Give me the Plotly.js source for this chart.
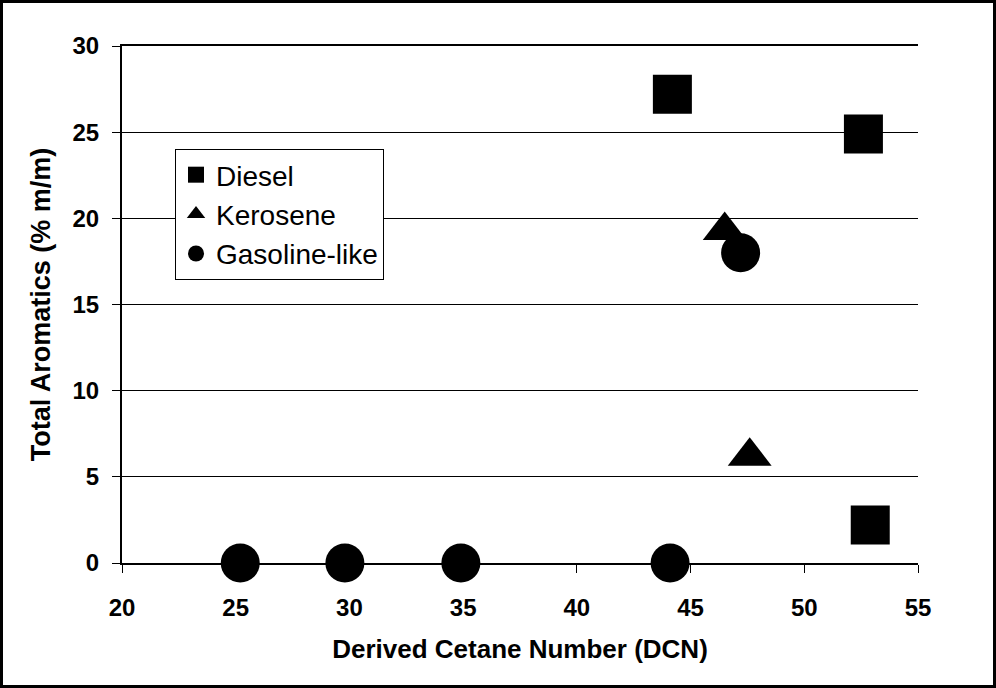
<!DOCTYPE html>
<html>
<head>
<meta charset="utf-8">
<script src="https://cdn.plot.ly/plotly-3.0.1.min.js"></script>
<style>
  html, body { margin: 0; padding: 0; background: #fff; }
  #wrap { position: relative; width: 996px; height: 688px; }
  #chart { width: 996px; height: 688px; }
  #frame { position: absolute; left: 0; top: 0; width: 996px; height: 688px; box-sizing: border-box; border: 3px solid #000; pointer-events: none; }
</style>
</head>
<body>
<div id="wrap"><div id="chart"></div><div id="frame"></div></div>
<script>
const dieselDCN = [44.2, 52.6, 52.9];
const dieselArom = [27.2, 24.9, 2.2];
const keroseneDCN = [46.5, 47.6];
const keroseneArom = [19.3, 6.2];
const gasolineDCN = [25.2, 29.8, 34.9, 44.1, 47.2];
const gasolineArom = [0, 0, 0, 0, 18.0];
const xTicks = [20, 25, 30, 35, 40, 45, 50, 55];
const yTicks = [0, 5, 10, 15, 20, 25, 30];

const FONT = 'Arial, "Liberation Sans", sans-serif';

const traces = [
  { name: 'Diesel', x: dieselDCN, y: dieselArom, mode: 'markers', type: 'scatter', legendgroup: 'a', cliponaxis: false,
    marker: { symbol: 'square', size: 39, color: '#000', line: { width: 0 } } },
  { name: 'Kerosene', x: keroseneDCN, y: keroseneArom, mode: 'markers', type: 'scatter', legendgroup: 'b', cliponaxis: false,
    marker: { symbol: 'triangle-up', size: 38, color: '#000', line: { width: 0 } } },
  { name: 'Gasoline-like', x: gasolineDCN, y: gasolineArom, mode: 'markers', type: 'scatter', legendgroup: 'c', cliponaxis: false,
    marker: { symbol: 'circle', size: 39, color: '#000', line: { width: 0 } } }
];

const layout = {
  width: 996, height: 688,
  margin: { l: 122, r: 78, t: 46, b: 125 },
  paper_bgcolor: '#fff', plot_bgcolor: '#fff',
  font: { family: FONT, color: '#000' },
  showlegend: true,
  legend: {
    x: 0.0666, y: 0.8008, xanchor: 'left', yanchor: 'top',
    bgcolor: '#fff', bordercolor: '#000', borderwidth: 1,
    font: { family: FONT, size: 28, color: '#000' },
    tracegroupgap: 8, traceorder: 'normal'
  },
  xaxis: {
    range: [20, 55], tickvals: xTicks, ticktext: xTicks.map(v => '<b>' + v + '</b>'),
    showgrid: false, zeroline: false,
    showline: true, linecolor: '#000', linewidth: 2, mirror: true,
    ticks: 'outside', ticklen: 8, tickcolor: '#000', tickwidth: 1,
    tickfont: { family: FONT, size: 24, color: '#000' },
    ticklabelstandoff: 14,
    title: { text: '<b>Derived Cetane Number (DCN)</b>', font: { family: FONT, size: 26, color: '#000' }, standoff: 20 }
  },
  yaxis: {
    range: [0, 30], tickvals: yTicks, ticktext: yTicks.map(v => '<b>' + v + '</b>'),
    showgrid: true, gridcolor: '#000', gridwidth: 1, zeroline: false,
    showline: true, linecolor: '#000', linewidth: 2,
    ticks: 'outside', ticklen: 8, tickcolor: '#000', tickwidth: 1,
    tickfont: { family: FONT, size: 24, color: '#000' },
    ticklabelstandoff: 8,
    title: { text: '<b>Total Aromatics (% m/m)</b>', font: { family: FONT, size: 27, color: '#000' }, standoff: 14 }
  }
};

Plotly.newPlot('chart', traces, layout, { staticPlot: true, displayModeBar: false });
</script>
</body>
</html>
